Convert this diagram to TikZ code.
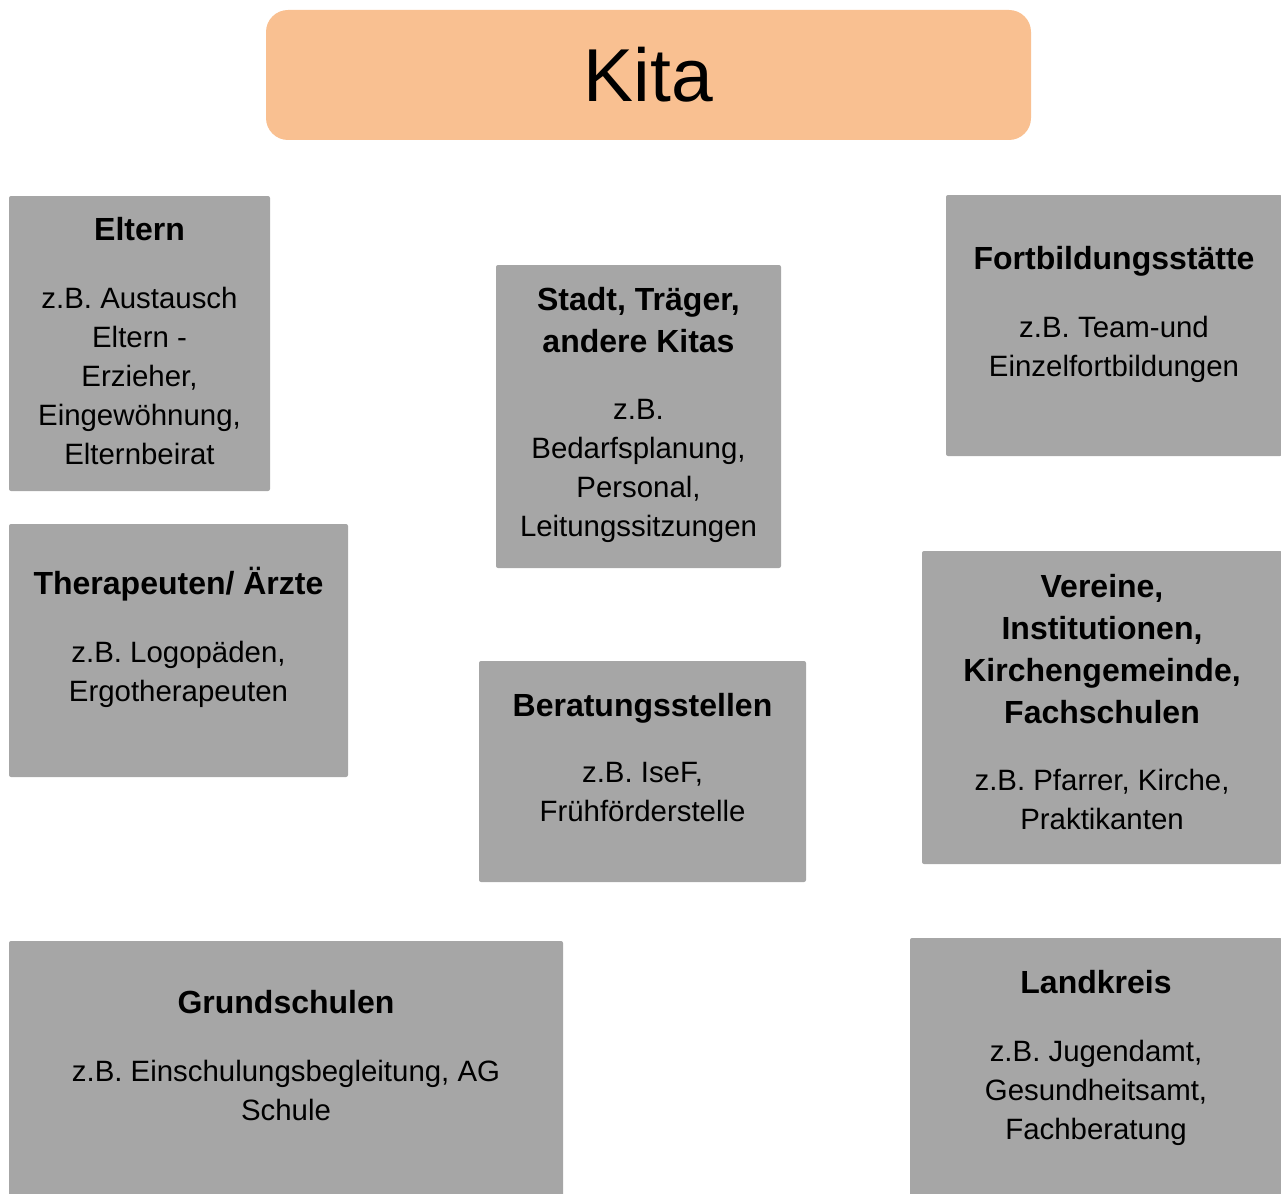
\documentclass[tikz,border=0pt]{standalone}
\usepackage{fontspec}
\setmainfont{Liberation Sans}
\usetikzlibrary{positioning}
\definecolor{kitaorange}{HTML}{F9C091}
\definecolor{feldgrau}{HTML}{A6A6A6}
\begin{document}
\begin{tikzpicture}[x=1pt,y=-1pt,node distance=33.6pt,
				every node/.style={inner sep=0pt,outer sep=0pt},
				kita/.style={fill=kitaorange,rounded corners=22pt,minimum width=765pt,minimum height=130pt,font=\fontsize{75}{90}\selectfont},
				feld/.style={fill=feldgrau,rounded corners=2pt,anchor=north west},
				titel/.style={align=center,font=\fontsize{32}{42}\selectfont\bfseries,execute at begin node=\strut,execute at end node=\strut},
				inhalt/.style={align=center,font=\fontsize{29.4}{39}\selectfont,execute at begin node=\strut,execute at end node=\strut}]
\useasboundingbox (0,0) rectangle (1281,1193);
\clip (0,0) rectangle (1281,1193);
\node[kita] (kita) at (648.5,75) {Kita};
\node[feld,minimum width=261pt,minimum height=295pt] (eltern) at (9,196) {};
\node[feld,minimum width=285pt,minimum height=303pt] (stadt) at (496,265) {};
\node[feld,minimum width=336pt,minimum height=261pt] (fortbildung) at (946,195) {};
\node[feld,minimum width=339pt,minimum height=253pt] (therapeuten) at (9,524) {};
\node[feld,minimum width=327pt,minimum height=221pt] (beratung) at (479,661) {};
\node[feld,minimum width=360pt,minimum height=313pt] (vereine) at (922,551) {};
\node[feld,minimum width=554pt,minimum height=262pt] (grundschulen) at (9,941) {};
\node[feld,minimum width=372pt,minimum height=265pt] (landkreis) at (910,938) {};

\node[titel,below=15.1pt of eltern.north] (eltern-titel) {Eltern};
\node[inhalt,below=of eltern-titel] (eltern-text) {z.B. Austausch\\Eltern -\\Erzieher,\\Eingewöhnung,\\Elternbeirat};
\node[titel,below=22.6pt of stadt.north] (stadt-titel) {Stadt, Träger,\\andere Kitas};
\node[inhalt,below=of stadt-titel] (stadt-text) {z.B.\\Bedarfsplanung,\\Personal,\\Leitungssitzungen};
\node[titel,below=45.1pt of fortbildung.north] (fortbildung-titel) {Fortbildungsstätte};
\node[inhalt,below=of fortbildung-titel] (fortbildung-text) {z.B. Team-und\\Einzelfortbildungen};
\node[titel,below=41.1pt of therapeuten.north] (therapeuten-titel) {Therapeuten/ Ärzte};
\node[inhalt,below=of therapeuten-titel] (therapeuten-text) {z.B. Logopäden,\\Ergotherapeuten};
\node[titel,below=26.1pt of beratung.north] (beratung-titel) {Beratungsstellen};
\node[inhalt,below=of beratung-titel] (beratung-text) {z.B. IseF,\\Frühförderstelle};
\node[titel,below=23.1pt of vereine.north] (vereine-titel) {Vereine,\\Institutionen,\\Kirchengemeinde,\\Fachschulen};
\node[inhalt,below=of vereine-titel] (vereine-text) {z.B. Pfarrer, Kirche,\\Praktikanten};
\node[titel,below=43.1pt of grundschulen.north] (grundschulen-titel) {Grundschulen};
\node[inhalt,below=of grundschulen-titel] (grundschulen-text) {z.B. Einschulungsbegleitung, AG\\Schule};
\node[titel,below=26.1pt of landkreis.north] (landkreis-titel) {Landkreis};
\node[inhalt,below=of landkreis-titel] (landkreis-text) {z.B. Jugendamt,\\Gesundheitsamt,\\Fachberatung};
\end{tikzpicture}
\end{document}
